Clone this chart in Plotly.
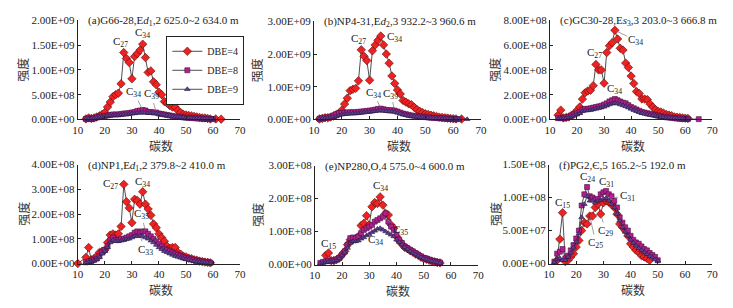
import plotly.graph_objects as go

FONT = "Liberation Serif, Times New Roman, Noto Sans CJK SC, serif"
CJK = "Noto Sans CJK SC, Liberation Serif, serif"
W, H = 733, 308

# ---------------- data (carbon number, intensity) ----------------
# (a) G66-28   values in 1e9
a4_c = [13,14,15,16,17,18,19,20,21,22,23,24,25,26,27,28,29,30,31,32,33,34,35,36,37,38,39,40,41,42,43,44,45,46,47,48,49,50,51,52,53,54,55,56,57,58,59,61,63]
a4_v = [0.01,0.03,0.02,0.03,0.05,0.07,0.10,0.14,0.25,0.35,0.46,0.50,0.53,0.72,1.35,1.23,1.15,0.82,1.27,1.33,1.40,1.52,1.25,0.95,0.98,0.76,0.70,0.55,0.50,0.36,0.33,0.28,0.25,0.25,0.18,0.14,0.10,0.09,0.08,0.07,0.06,0.05,0.04,0.03,0.03,0.02,0.01,0.01,0.005]
a8_c = list(range(13, 61))
a8_v = [0.01,0.02,0.01,0.02,0.04,0.05,0.06,0.07,0.08,0.09,0.10,0.10,0.10,0.11,0.12,0.12,0.13,0.14,0.15,0.17,0.18,0.19,0.18,0.15,0.15,0.14,0.14,0.12,0.11,0.10,0.09,0.08,0.07,0.06,0.05,0.05,0.04,0.035,0.03,0.03,0.025,0.02,0.02,0.015,0.01,0.01,0.008,0.005]
a9_c = list(range(13, 61))
a9_v = [0.01,0.01,0.01,0.02,0.03,0.04,0.05,0.06,0.07,0.08,0.08,0.09,0.09,0.09,0.10,0.10,0.11,0.12,0.12,0.13,0.13,0.14,0.13,0.13,0.13,0.13,0.12,0.11,0.10,0.09,0.08,0.07,0.06,0.05,0.05,0.04,0.04,0.03,0.03,0.025,0.02,0.02,0.015,0.01,0.01,0.008,0.006,0.004]

# (b) NP4-31   values in 1e9
b4_c = list(range(12, 62)) + [63]
b4_v = [0.01,0.03,0.05,0.05,0.07,0.10,0.14,0.19,0.28,0.47,0.65,0.88,0.92,0.95,1.18,2.13,1.93,1.80,1.20,2.10,2.28,2.42,2.55,2.28,2.00,1.72,1.33,1.10,0.90,0.78,0.58,0.53,0.48,0.45,0.37,0.30,0.25,0.21,0.17,0.15,0.13,0.11,0.09,0.07,0.06,0.05,0.04,0.03,0.02,0.015,0.01]
b8_c = list(range(12, 63))
b8_v = [0.02,0.04,0.05,0.06,0.08,0.12,0.16,0.19,0.20,0.21,0.21,0.22,0.22,0.22,0.23,0.24,0.25,0.26,0.27,0.28,0.30,0.32,0.33,0.31,0.29,0.28,0.28,0.27,0.24,0.21,0.18,0.16,0.14,0.12,0.11,0.10,0.09,0.08,0.07,0.06,0.05,0.045,0.04,0.035,0.03,0.025,0.02,0.015,0.012,0.01,0.008]
b9_c = list(range(12, 63)) + [65]
b9_v = [0.01,0.02,0.03,0.04,0.05,0.07,0.09,0.12,0.14,0.16,0.17,0.17,0.18,0.18,0.19,0.20,0.21,0.22,0.23,0.24,0.25,0.26,0.27,0.26,0.25,0.24,0.24,0.23,0.20,0.17,0.15,0.13,0.11,0.10,0.09,0.08,0.07,0.06,0.05,0.045,0.04,0.035,0.03,0.025,0.02,0.018,0.015,0.012,0.01,0.008,0.006,0.004]

# (c) GC30-28   values in 1e8
c4_c = list(range(13, 62))
c4_v = [0.35,0.75,0.12,0.15,0.20,0.34,0.47,0.73,1.00,1.64,2.15,2.30,2.36,2.73,4.44,4.00,4.00,2.93,5.40,5.95,6.20,7.20,6.50,5.75,5.60,4.55,4.20,3.50,2.90,2.25,2.10,1.65,1.65,1.60,1.25,1.00,0.80,0.65,0.60,0.50,0.40,0.35,0.30,0.20,0.18,0.15,0.12,0.10,0.08]
c8_c = list(range(13, 62)) + [65]
c8_v = [0.10,0.10,0.10,0.15,0.20,0.30,0.40,0.50,0.60,0.80,0.85,0.85,0.90,0.95,1.00,1.05,1.10,1.20,1.30,1.45,1.55,1.65,1.55,1.45,1.35,1.30,1.15,1.00,0.90,0.80,0.70,0.60,0.55,0.50,0.45,0.40,0.35,0.30,0.25,0.20,0.17,0.15,0.12,0.10,0.08,0.06,0.05,0.04,0.03,0.02]
c9_c = list(range(13, 62))
c9_v = [0.05,0.06,0.07,0.10,0.15,0.22,0.30,0.40,0.50,0.65,0.70,0.72,0.75,0.80,0.85,0.90,0.95,1.02,1.10,1.20,1.27,1.32,1.27,1.20,1.12,1.05,0.95,0.85,0.75,0.66,0.58,0.50,0.45,0.40,0.36,0.32,0.28,0.24,0.20,0.17,0.14,0.12,0.10,0.08,0.06,0.05,0.04,0.03,0.02]

# (d) NP1   values in 1e8
d4_c = [10] + list(range(13, 60))
d4_v = [0.0,0.25,0.65,0.15,0.20,0.30,0.45,0.50,0.55,0.85,1.15,1.20,1.15,1.20,1.50,3.20,2.50,2.25,1.65,2.60,2.55,2.40,2.90,2.40,2.20,1.95,1.60,1.45,1.20,1.05,0.90,0.70,0.62,0.65,0.65,0.45,0.38,0.30,0.27,0.22,0.20,0.15,0.13,0.10,0.08,0.06,0.05,0.03]
d8_c = list(range(13, 60))
d8_v = [0.05,0.08,0.10,0.15,0.20,0.30,0.45,0.55,0.70,0.95,1.05,0.95,0.95,1.00,1.00,1.05,1.10,1.15,1.25,1.30,1.25,1.30,1.30,1.20,1.10,1.00,0.90,0.80,0.70,0.60,0.55,0.50,0.45,0.40,0.35,0.30,0.25,0.22,0.20,0.17,0.15,0.12,0.10,0.08,0.06,0.05,0.03]
d9_c = list(range(13, 60))
d9_v = [0.03,0.05,0.08,0.12,0.18,0.25,0.40,0.50,0.65,0.85,0.95,0.90,0.90,0.92,0.95,0.98,1.00,1.05,1.10,1.10,1.12,1.10,1.05,1.00,0.92,0.85,0.75,0.65,0.58,0.50,0.45,0.40,0.35,0.30,0.27,0.23,0.20,0.17,0.15,0.12,0.10,0.08,0.06,0.05,0.04,0.03,0.02]

# (e) NP280   values in 1e8
e4_c = list(range(14, 57))
e4_v = [0.28,0.35,0.12,0.12,0.15,0.20,0.30,0.40,0.60,0.75,0.75,0.78,0.85,1.18,1.25,1.48,1.20,1.75,1.88,1.85,2.05,1.80,1.55,1.50,1.20,1.10,0.85,0.72,0.62,0.52,0.48,0.42,0.38,0.32,0.28,0.22,0.18,0.16,0.13,0.10,0.08,0.06,0.05]
e8_c = list(range(12, 57))
e8_v = [0.05,0.08,0.10,0.12,0.10,0.12,0.15,0.20,0.30,0.40,0.60,0.80,0.82,0.80,0.85,0.95,1.05,1.10,1.15,1.20,1.30,1.35,1.40,1.45,1.55,1.30,1.15,1.05,0.90,0.75,0.65,0.55,0.50,0.45,0.40,0.35,0.30,0.25,0.20,0.18,0.15,0.12,0.10,0.08,0.06]
e9_c = list(range(12, 57))
e9_v = [0.03,0.05,0.07,0.08,0.08,0.10,0.13,0.18,0.27,0.36,0.50,0.65,0.70,0.70,0.72,0.78,0.82,0.88,0.92,0.98,1.02,1.08,1.10,1.05,1.00,0.95,0.90,0.85,0.75,0.68,0.60,0.52,0.46,0.40,0.35,0.30,0.26,0.22,0.18,0.15,0.12,0.10,0.08,0.06,0.04]

# (f) PG2   values in 1e8
f4_c = list(range(13, 48))
f4_v = [0.05,0.37,0.77,0.03,0.05,0.10,0.15,0.25,0.35,0.50,0.62,0.60,0.72,0.72,0.85,0.90,0.75,0.92,0.95,0.93,0.90,0.85,0.75,0.60,0.55,0.50,0.42,0.30,0.25,0.20,0.17,0.12,0.10,0.08,0.05]
f8_c = list(range(12, 51))
f8_v = [0.03,0.15,0.18,0.22,0.08,0.12,0.20,0.28,0.38,0.50,0.88,1.05,1.16,1.02,1.00,0.97,0.98,1.05,1.08,1.10,1.05,1.02,0.95,0.85,0.70,0.62,0.55,0.50,0.42,0.36,0.32,0.30,0.26,0.22,0.20,0.16,0.13,0.10,0.05]
f9_c = list(range(12, 51))
f9_v = [0.02,0.06,0.08,0.05,0.05,0.10,0.16,0.24,0.33,0.45,0.70,0.90,1.02,0.95,0.95,0.92,0.95,0.96,0.98,0.99,0.95,0.90,0.85,0.75,0.65,0.55,0.48,0.42,0.36,0.31,0.27,0.23,0.20,0.17,0.14,0.11,0.09,0.06,0.04]

# panel titles
titles = [
    "(a)G66-28,E<i>d</i><sub>1</sub>,2 625.0~2 634.0 m",
    "(b)NP4-31,E<i>d</i><sub>2</sub>,3 932.2~3 960.6 m",
    "(c)GC30-28,E<i>s</i><sub>3</sub>,3 203.0~3 666.8 m",
    "(d)NP1,E<i>d</i><sub>1</sub>,2 379.8~2 410.0 m",
    "(e)NP280,O,4 575.0~4 600.0 m",
    "(f)PG2,Є,5 165.2~5 192.0 m",
]
series_names = ["DBE=4", "DBE=8", "DBE=9"]
scales = [1e9, 1e9, 1e8, 1e8, 1e8, 1e8]
yticks = [
    [0, 5e8, 1e9, 1.5e9, 2e9],
    [0, 1e9, 2e9, 3e9],
    [0, 2e8, 4e8, 6e8, 8e8],
    [0, 1e8, 2e8, 3e8, 4e8],
    [0, 1e8, 2e8, 3e8],
    [0, 5e7, 1e8, 1.5e8],
]
xticks = [10, 20, 30, 40, 50, 60, 70]
xlabel = "碳数"
ylabel = "强度"

data = [
    [(a4_c, a4_v), (a8_c, a8_v), (a9_c, a9_v)],
    [(b4_c, b4_v), (b8_c, b8_v), (b9_c, b9_v)],
    [(c4_c, c4_v), (c8_c, c8_v), (c9_c, c9_v)],
    [(d4_c, d4_v), (d8_c, d8_v), (d9_c, d9_v)],
    [(e4_c, e4_v), (e8_c, e8_v), (e9_c, e9_v)],
    [(f4_c, f4_v), (f8_c, f8_v), (f9_c, f9_v)],
]

# peak labels: (text, series index, carbon, dx, dy, leader line)
peak_labels = [
    [("C<sub>27</sub>", 0, 27, -3, -11, False), ("C<sub>34</sub>", 0, 34, 0, -11, False),
     ("C<sub>34</sub>", 1, 34, -9, -18, True), ("C<sub>39</sub>", 1, 39, -5, -18, True)],
    [("C<sub>27</sub>", 0, 27, -3, -11, False), ("C<sub>34</sub>", 0, 34, 14, 1, False),
     ("C<sub>34</sub>", 1, 34, -7, -16, True), ("C<sub>39</sub>", 1, 39, -4, -17, True)],
    [("C<sub>27</sub>", 0, 27, -1, -11, False), ("C<sub>34</sub>", 0, 34, 21, 10, True),
     ("C<sub>34</sub>", 1, 34, 0, -10, False)],
    [("C<sub>27</sub>", 0, 27, -13, 0, False), ("C<sub>34</sub>", 0, 34, 0, -10, False),
     ("C<sub>35</sub>", 1, 35, -4, -17, True), ("C<sub>33</sub>", 2, 33, 5, 14, True)],
    [("C<sub>15</sub>", 0, 15, 0, -9, False), ("C<sub>34</sub>", 0, 34, 0, -11, False),
     ("C<sub>35</sub>", 1, 35, 18, 13, True), ("C<sub>34</sub>", 2, 34, -5, 12, True)],
    [("C<sub>15</sub>", 0, 15, 0, -10, False), ("C<sub>24</sub>", 1, 24, 0, -10, False),
     ("C<sub>31</sub>", 1, 31, 0, -9, False), ("C<sub>31</sub>", 2, 31, 21, -2, True),
     ("C<sub>29</sub>", 0, 29, 5, 17, True), ("C<sub>25</sub>", 0, 25, 6, 27, True)],
]

# ---------------- styling / layout ----------------
panel_px = [(73, 238, 15, 118), (313, 483, 16, 118), (553, 718, 15, 118),
            (73, 238, 165, 268), (314, 480, 166, 269), (552, 718, 165, 268)]
styles = [
    dict(symbol="diamond", size=6.5, color="#ee2222", line=dict(color="#5a0c0c", width=0.6)),
    dict(symbol="square", size=5, color="#b21f8e", line=dict(color="#4a1040", width=0.6)),
    dict(symbol="triangle-up", size=5, color="#5e3f8f", line=dict(color="#2a1a45", width=0.6)),
]
line_style = dict(color="#222222", width=0.8)

fig = go.Figure()
annotations = []
layout = dict(
    width=W, height=H, margin=dict(l=0, r=0, t=0, b=0),
    paper_bgcolor="white", plot_bgcolor="white",
    font=dict(family=FONT, size=11, color="#222"),
    showlegend=True,
    legend=dict(x=163 / W, y=1 - 31 / H, xanchor="left", yanchor="top",
                bordercolor="#222", borderwidth=1, bgcolor="white",
                font=dict(family=FONT, size=10, color="#222"),
                itemwidth=30, tracegroupgap=0),
)

for i in range(6):
    x0, x1, y0, y1 = panel_px[i]
    k = "" if i == 0 else str(i + 1)
    xa, ya = "x" + k, "y" + k
    sc = scales[i]
    for s, (cs, vs) in enumerate(data[i]):
        fig.add_trace(go.Scatter(
            x=cs, y=[v * sc for v in vs], xaxis=xa, yaxis=ya,
            mode="lines+markers", name=series_names[s],
            marker=styles[s], line=line_style, cliponaxis=False,
            showlegend=(i == 0),
        ))
    top = yticks[i][-1]
    layout["xaxis" + k] = dict(
        domain=[x0 / W, x1 / W], anchor=ya, range=[10, 70],
        tickvals=xticks, ticks="inside", ticklen=3, tickcolor="#222",
        showline=True, linecolor="#222", linewidth=1, showgrid=False, zeroline=False,
        tickfont=dict(family=FONT, size=11, color="#222"),
    )
    layout["yaxis" + k] = dict(
        domain=[1 - y1 / H, 1 - y0 / H], anchor=xa, range=[0, top],
        tickvals=yticks[i], ticktext=[f"{v:.2E}" for v in yticks[i]],
        ticks="inside", ticklen=3, tickcolor="#222",
        showline=True, linecolor="#222", linewidth=1, showgrid=False, zeroline=False,
        tickfont=dict(family=FONT, size=11, color="#222"),
    )
    # panel title
    annotations.append(dict(
        xref="paper", yref="paper", x=(x0 + 8) / W, y=1 - (y0 + 1) / H,
        xanchor="left", yanchor="middle", text=titles[i], showarrow=False,
        font=dict(family=FONT, size=11, color="#222"),
    ))
    # axis titles
    col = i % 3
    ylab_x = [17, 255, 497][col]
    annotations.append(dict(
        xref="paper", yref="paper", x=ylab_x / W, y=1 - ((y0 + y1) / 2) / H,
        xanchor="center", yanchor="middle",
        text=ylabel, showarrow=False, textangle=-90,
        font=dict(family=CJK, size=12, color="#333"),
    ))
    annotations.append(dict(
        xref="paper", yref="paper", x=((x0 + x1) / 2 + 2) / W, y=1 - (y1 + 27) / H,
        xanchor="center", yanchor="middle",
        text=xlabel, showarrow=False,
        font=dict(family=CJK, size=12, color="#333"),
    ))
    # peak labels
    for (txt, s, c, dx, dy, leader) in peak_labels[i]:
        cs, vs = data[i][s]
        yv = vs[cs.index(c)] * sc
        if leader:
            annotations.append(dict(
                xref=xa, yref=ya, x=c, y=yv, text=txt, showarrow=True,
                ax=dx, ay=dy, arrowhead=0, arrowwidth=0.7, arrowcolor="#777",
                standoff=2, font=dict(family=FONT, size=11, color="#222"),
            ))
        else:
            annotations.append(dict(
                xref=xa, yref=ya, x=c, y=yv, text=txt, showarrow=False,
                xshift=dx, yshift=-dy, font=dict(family=FONT, size=11, color="#222"),
            ))

layout["annotations"] = annotations
fig.update_layout(**layout)
fig.write_html("out.html", config={"displayModeBar": False},
               post_script="document.body.style.margin='0px';")
